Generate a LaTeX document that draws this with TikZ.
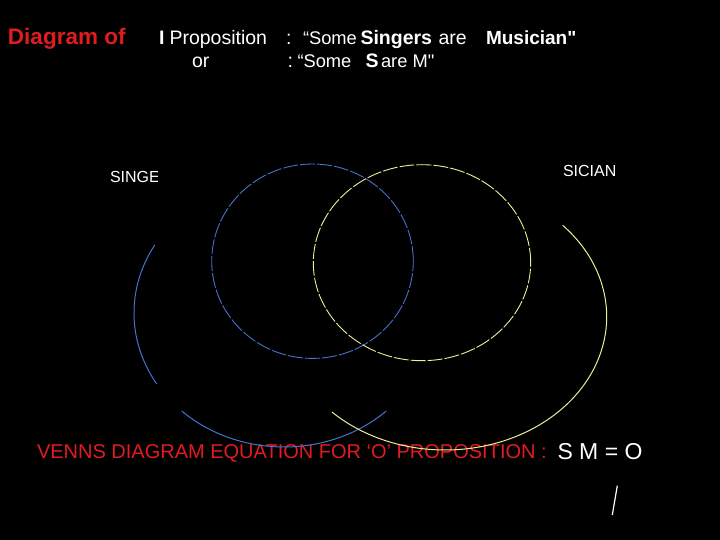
\documentclass[tikz,border=0pt]{standalone}
\usepackage{fontspec}
\setmainfont{Liberation Sans}[Ligatures=TeXOff]
\definecolor{tred}{RGB}{225,28,32}
\definecolor{vblue}{RGB}{72,112,205}
\definecolor{vyel}{RGB}{238,238,150}
\begin{document}
\begin{tikzpicture}[x=1pt,y=-1pt,
  txt/.style={inner sep=0pt, outer sep=0pt, anchor=base west, text=white},
  reg/.style={txt, font=\fontsize{19.5}{23}\selectfont},
  regs/.style={txt, font=\fontsize{18.3}{22}\selectfont},
  bld/.style={txt, font=\fontsize{19.5}{23}\selectfont\bfseries},
  lab/.style={txt, font=\fontsize{16}{19}\selectfont},
  smallcirc/.style={line width=0.9pt, dash pattern=on 15pt off 2pt},
  bigarc/.style={line width=1pt}]
\fill[black] (0,0) rectangle (720,540);
\useasboundingbox (0,0) rectangle (720,540);
% title line 1
\node[txt, text=tred, font=\fontsize{22.5}{26}\selectfont\bfseries] (t1) at (8,45) {Diagram of};
\node[bld] (t2) at (159,45) {I};
\node[reg] (t3) at (169.5,45) {Proposition};
\node[reg] (t4) at (286,45) {:};
\node[regs] (t5) at (303,45) {“Some};
\node[bld] (t6) at (360.5,45) {Singers};
\node[reg] (t7) at (438.5,45) {are};
\node[txt, font=\fontsize{19}{23}\selectfont\bfseries] (t8) at (486,45) {Musician"};
% title line 2
\node[reg] (u1) at (192,67.5) {or};
\node[reg] (u2) at (287.5,67.5) {:};
\node[regs] (u3) at (297.5,67.5) {“Some};
\node[bld] (u4) at (365.5,67.5) {S};
\node[regs] (u5) at (381,67.5) {are M"};
% set labels
\begin{scope}
\clip (100,160) rectangle (157.5,190);
\node[lab] (sing) at (110,182.3) {SINGE};
\end{scope}
\node[lab] (mus) at (563,176.7) {SICIAN};
% bottom equation
\node[txt, text=tred, font=\fontsize{20}{24}\selectfont] (eq) at (37,458.5) {VENNS DIAGRAM EQUATION FOR ‘O’ PROPOSITION :};
\node[txt, font=\fontsize{23}{27}\selectfont] (res) at (557.5,459.5) {S M = O};
% small circles
\draw[vblue, smallcirc] (312.5,261.2) ellipse [x radius=100.8pt, y radius=97.2pt];
\draw[vyel, smallcirc] (422,262.7) ellipse [x radius=108.7pt, y radius=98pt];
% big arcs
\draw[vblue, bigarc] plot[domain=149.5:212, samples=60] ({284+150*cos(\x)},{313-134*sin(\x)});
\draw[vblue, bigarc] plot[domain=227:313, samples=60] ({284+150*cos(\x)},{313-134*sin(\x)});
\draw[vyel, bigarc] plot[domain=-134.4:43.3, samples=120] ({445+161.7*cos(\x)},{316.7-133.3*sin(\x)});
% slash
\coordinate (s1) at (617.3,485.7);
\coordinate (s2) at (612.3,515);
\draw[white, line width=1.2pt] (s1) -- (s2);
\end{tikzpicture}
\end{document}
